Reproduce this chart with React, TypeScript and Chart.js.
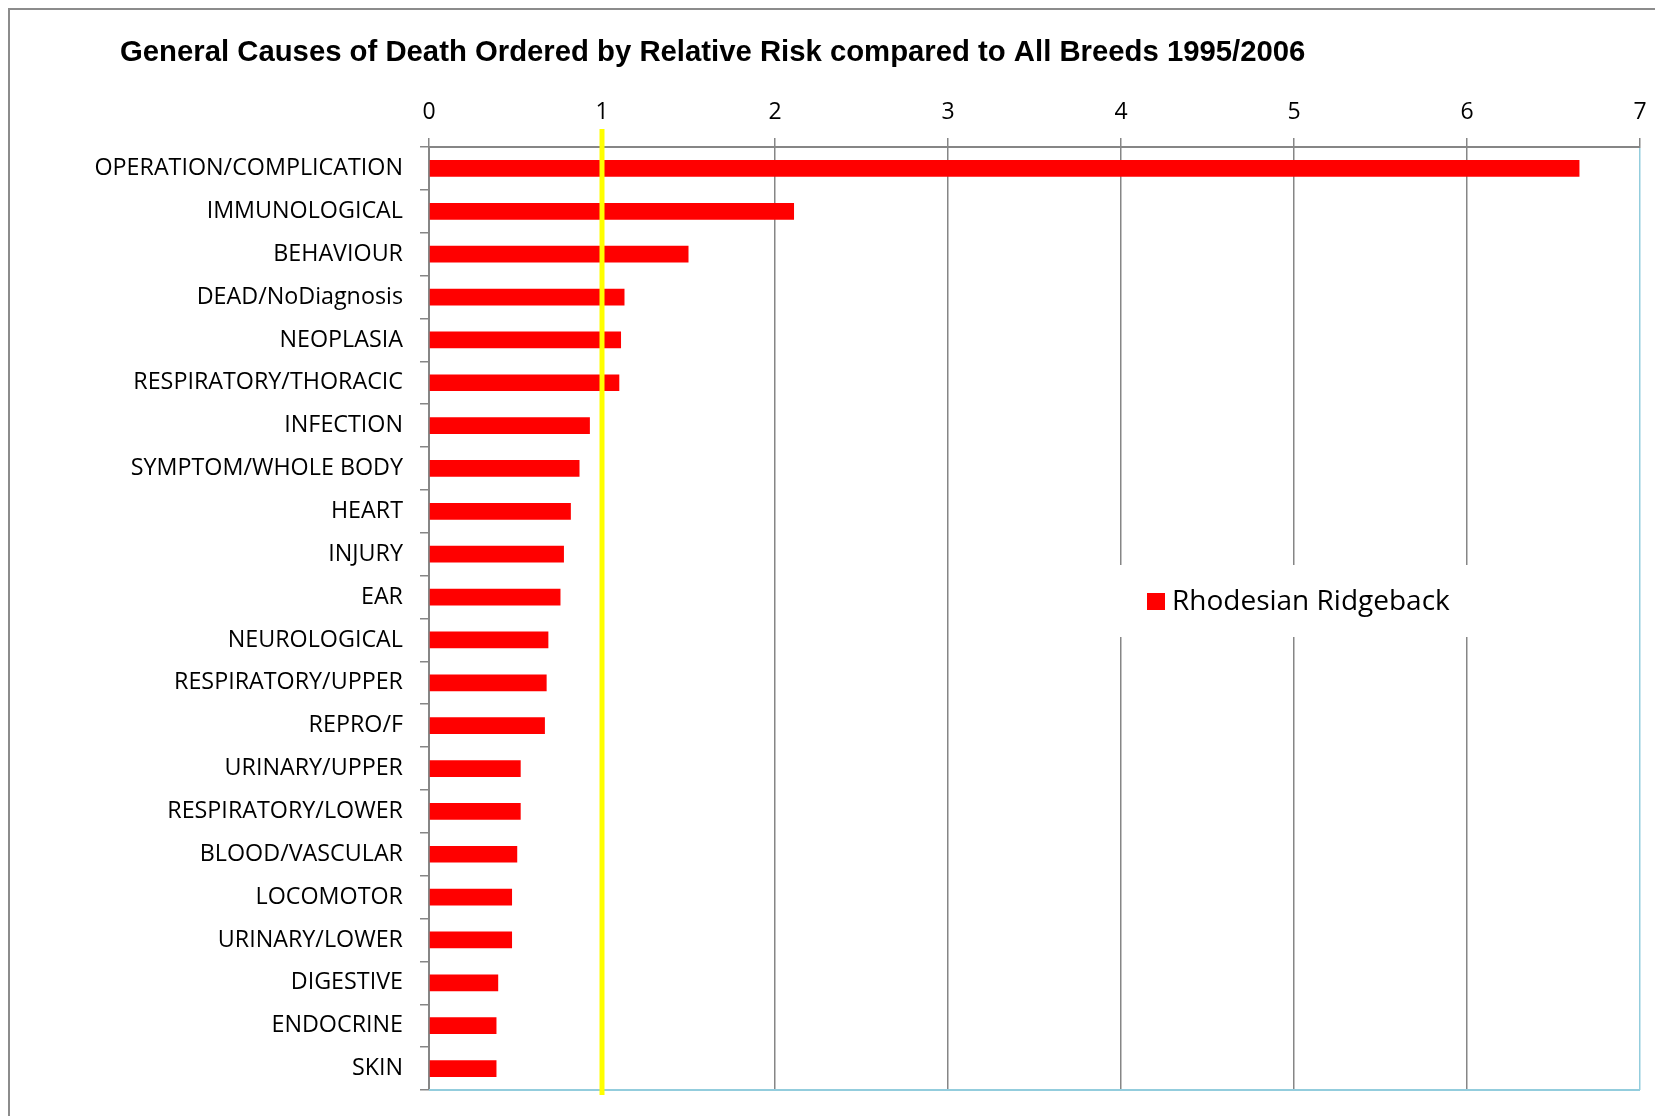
import { useEffect, useRef } from "react";
import { Chart, registerables } from "chart.js";

Chart.register(...registerables);

const TITLE = "General Causes of Death Ordered by Relative Risk compared to All Breeds 1995/2006";
const SERIES_LABEL = "Rhodesian Ridgeback";

const CATEGORIES = [
  "OPERATION/COMPLICATION",
  "IMMUNOLOGICAL",
  "BEHAVIOUR",
  "DEAD/NoDiagnosis",
  "NEOPLASIA",
  "RESPIRATORY/THORACIC",
  "INFECTION",
  "SYMPTOM/WHOLE BODY",
  "HEART",
  "INJURY",
  "EAR",
  "NEUROLOGICAL",
  "RESPIRATORY/UPPER",
  "REPRO/F",
  "URINARY/UPPER",
  "RESPIRATORY/LOWER",
  "BLOOD/VASCULAR",
  "LOCOMOTOR",
  "URINARY/LOWER",
  "DIGESTIVE",
  "ENDOCRINE",
  "SKIN",
];

const RELATIVE_RISK = [
  6.65, 2.11, 1.5, 1.13, 1.11, 1.1, 0.93, 0.87, 0.82, 0.78, 0.76,
  0.69, 0.68, 0.67, 0.53, 0.53, 0.51, 0.48, 0.48, 0.4, 0.39, 0.39,
];

const X_MIN = 0;
const X_MAX = 7;
const X_STEP = 1;
const REFERENCE_RISK = 1; // "all breeds" baseline (yellow line)

const GRID_GRAY = "#868686";
const FRAME_BLUE = "#93CDDD";
const BAR_RED = "#FF0000";
const REF_YELLOW = "#FFFF00";
const LABEL_FONT = "'Open Sans', 'Noto Sans', sans-serif";
const TITLE_FONT = "'Liberation Sans', Arial, sans-serif";

const overlayPlugin = {
  id: "overlay",
  afterDraw(chart: any) {
    const { ctx } = chart;
    ctx.save();
    ctx.fillStyle = "#000000";
    ctx.font = `bold 29.3px ${TITLE_FONT}`;
    ctx.textAlign = "left";
    ctx.textBaseline = "alphabetic";
    ctx.fillText(TITLE, 110, 51);
    ctx.restore();
  },
  beforeDatasetsDraw(chart: any) {
    const { ctx, chartArea } = chart;
    ctx.save();
    // light-blue bottom frame of plot area
    ctx.strokeStyle = FRAME_BLUE;
    ctx.lineWidth = 2;
    ctx.beginPath();
    ctx.moveTo(chartArea.left, chartArea.bottom);
    ctx.lineTo(chartArea.right, chartArea.bottom);
    ctx.stroke();
    // legend box inside plot
    const lx = chartArea.left + 688;
    const ly = chartArea.top + 418;
    ctx.fillStyle = "#ffffff";
    ctx.fillRect(lx, ly, 354, 72);
    ctx.fillStyle = BAR_RED;
    ctx.fillRect(lx + 30, ly + 28, 18, 17);
    ctx.fillStyle = "#000000";
    ctx.font = `28px ${LABEL_FONT}`;
    ctx.textAlign = "left";
    ctx.textBaseline = "middle";
    ctx.fillText(chart.data.datasets[0].label, lx + 55, ly + 37);
    ctx.restore();
  },
  afterDatasetsDraw(chart: any) {
    const { ctx, chartArea, scales } = chart;
    const x = scales.x.getPixelForValue(REFERENCE_RISK);
    ctx.save();
    ctx.strokeStyle = REF_YELLOW;
    ctx.lineWidth = 5;
    ctx.beginPath();
    ctx.moveTo(x, chartArea.top - 18);
    ctx.lineTo(x, chartArea.bottom + 5);
    ctx.stroke();
    ctx.restore();
  },
};

export default function App() {
  const canvasRef = useRef<HTMLCanvasElement | null>(null);

  useEffect(() => {
    const canvas = canvasRef.current;
    if (!canvas) return;
    const chart = new Chart(canvas, {
      type: "bar",
      data: {
        labels: CATEGORIES,
        datasets: [
          {
            label: SERIES_LABEL,
            data: RELATIVE_RISK,
            backgroundColor: BAR_RED,
            borderWidth: 0,
            categoryPercentage: 1,
            barPercentage: 0.39,
          },
        ],
      },
      options: {
        indexAxis: "y",
        responsive: false,
        animation: false,
        layout: { padding: { left: 40, right: 23, top: 65, bottom: 26 } },
        plugins: {
          legend: { display: false },
          tooltip: { enabled: false },
          title: { display: false },
        },
        scales: {
          x: {
            type: "linear",
            position: "top",
            min: X_MIN,
            max: X_MAX,
            afterFit: (scale: any) => {
              scale.height = 72;
            },
            ticks: {
              stepSize: X_STEP,
              color: "#000000",
              padding: 12,
              font: { family: LABEL_FONT, size: 23 },
            },
            grid: {
              color: (c: any) => (c.tick && c.tick.value === X_MAX ? FRAME_BLUE : GRID_GRAY),
              tickColor: GRID_GRAY,
              lineWidth: 1.5,
              tickLength: 9,
            },
            border: { color: GRID_GRAY, width: 2 },
          },
          y: {
            type: "category",
            afterFit: (scale: any) => {
              scale.width = 379;
              scale.paddingTop = 0;
              scale.paddingBottom = 0;
            },
            ticks: {
              color: "#000000",
              padding: 17,
              autoSkip: false,
              font: { family: LABEL_FONT, size: 23.3 },
            },
            grid: {
              offset: true,
              drawOnChartArea: false,
              color: GRID_GRAY,
              lineWidth: 1.5,
              tickLength: 9,
            },
            border: { color: GRID_GRAY, width: 2 },
          },
        },
      },
      plugins: [overlayPlugin],
    });
    return () => chart.destroy();
  }, []);

  return (
    <div
      style={{
        width: 1655,
        height: 1108,
        boxSizing: "border-box",
        borderTop: "2px solid #8c8c8c",
        borderLeft: "2px solid #8c8c8c",
        background: "#ffffff",
        overflow: "hidden",
      }}
    >
      <canvas
        ref={canvasRef}
        width={1653}
        height={1106}
        style={{ display: "block", width: 1653, height: 1106 }}
      />
    </div>
  );
}
